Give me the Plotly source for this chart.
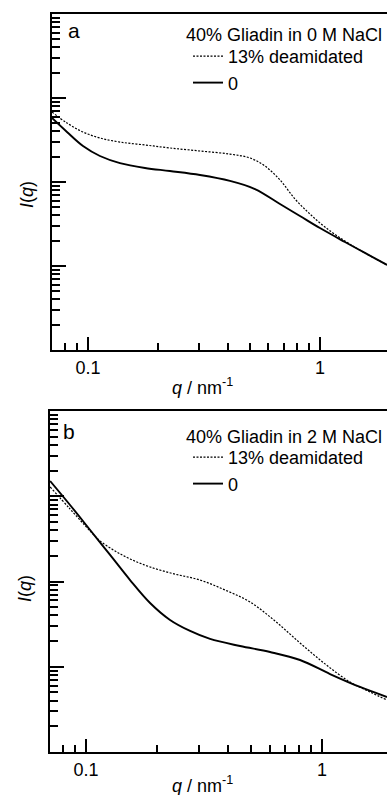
import plotly.graph_objects as go

# ---------------- data ----------------
# Panel a: 40% Gliadin in 0 M NaCl
qa_deam = [0.0700, 0.0812, 0.0952, 0.1126, 0.1374, 0.1761, 0.2256, 0.3040, 0.4093, 0.4993, 0.5792, 0.6725,
           0.7802, 0.9055, 1.0510, 1.2816, 1.5631, 1.9444]
Ia_deam = [681, 504, 394, 334, 299, 276, 254, 234, 215, 193, 155, 106, 62.8, 41.6, 29.1, 19.8, 14.3, 10.3]
qa_native = [0.0700, 0.0812, 0.0952, 0.1126, 0.1374, 0.1761, 0.2256, 0.3040, 0.4093, 0.5246, 0.6725, 0.8199,
             1.0, 1.2816, 1.5631, 1.9444]
Ia_native = [578, 394, 268, 204, 168, 147, 135, 121, 103, 82.5, 54.7, 39.4, 28.3, 19.3, 14.3, 10.3]

# Panel b: 40% Gliadin in 2 M NaCl
qb_deam = [0.0704, 0.0855, 0.1040, 0.1146, 0.1327, 0.1536, 0.1867, 0.2383, 0.3042, 0.3881, 0.4952, 0.6322,
           0.8069, 1.0297, 1.3141, 1.5976, 1.8856]
Ib_deam = [1284, 709, 391, 299, 228, 184, 148, 122, 104, 79.5, 57.5, 34.4, 19.0, 10.8, 6.62, 5.06, 4.07]
qb_native = [0.0704, 0.0855, 0.1040, 0.1264, 0.1536, 0.1867, 0.2269, 0.2759, 0.3353, 0.4493, 0.6021, 0.8069,
             1.0812, 1.4488, 1.8856]
Ib_native = [1510, 790, 402, 205, 104, 56.0, 35.4, 26.3, 21.2, 17.5, 14.9, 12.0, 8.22, 5.79, 4.42]

series_names = ["13% deamidated", "0"]
legend_titles = ["40% Gliadin in 0 M NaCl", "40% Gliadin in 2 M NaCl"]
panel_labels = ["a", "b"]
x_tickvals = [0.1, 1]
x_ticktext = ["0.1", "1"]
x_minor = [0.08, 0.09, 0.2, 0.3, 0.4, 0.5, 0.6, 0.7, 0.8, 0.9, 2]
y_major = [10, 100, 1000]
y_minor = [m * 10 ** k for k in range(0, 4) for m in range(2, 10)]

# ---------------- figure ----------------
W, H = 387, 795
FONT = "Arial, Liberation Sans, sans-serif"
fig = go.Figure()

dot_style = dict(color="black", width=1.2, dash="2px,1.5px")
solid_style = dict(color="black", width=1.9)

fig.add_trace(go.Scatter(x=qa_deam, y=Ia_deam, mode="lines", name=series_names[0], line=dot_style,
                         line_shape="spline", xaxis="x", yaxis="y", legend="legend"))
fig.add_trace(go.Scatter(x=qa_native, y=Ia_native, mode="lines", name=series_names[1], line=solid_style,
                         line_shape="spline", xaxis="x", yaxis="y", legend="legend"))
fig.add_trace(go.Scatter(x=qb_deam, y=Ib_deam, mode="lines", name=series_names[0], line=dot_style,
                         line_shape="spline", xaxis="x2", yaxis="y2", legend="legend2"))
fig.add_trace(go.Scatter(x=qb_native, y=Ib_native, mode="lines", name=series_names[1], line=solid_style,
                         line_shape="spline", xaxis="x2", yaxis="y2", legend="legend2"))


def xax(left_px, rng, anchor):
    return dict(type="log", range=rng, domain=[left_px / W, 1], anchor=anchor,
                showline=True, linewidth=2, linecolor="black", mirror=True,
                ticks="inside", ticklen=13, tickwidth=2, tickcolor="black",
                tickmode="array", tickvals=x_tickvals, ticktext=x_ticktext,
                tickfont=dict(size=18, color="black", family=FONT),
                ticklabelstandoff=0,
                showgrid=False, zeroline=False,
                minor=dict(ticks="inside", ticklen=7, tickwidth=2, tickcolor="black",
                           tickmode="array", tickvals=x_minor, showgrid=False))


def yax(top_px, bot_px, anchor):
    return dict(type="log", range=[0, 4], domain=[1 - bot_px / H, 1 - top_px / H], anchor=anchor,
                showline=True, linewidth=2, linecolor="black", mirror=False,
                ticks="inside", ticklen=14, tickwidth=2, tickcolor="black",
                tickmode="array", tickvals=y_major, showticklabels=False,
                showgrid=False, zeroline=False,
                minor=dict(ticks="inside", ticklen=8, tickwidth=1.5, tickcolor="black",
                           tickmode="array", tickvals=y_minor, showgrid=False))


def leg(x_px, y_px):
    return dict(x=x_px / W, y=1 - y_px / H, xanchor="left", yanchor="top",
                bgcolor="rgba(0,0,0,0)", borderwidth=0,
                font=dict(size=18, family=FONT, color="black"),
                itemwidth=30, tracegroupgap=0, traceorder="normal")


fig.update_layout(
    width=W, height=H, margin=dict(l=0, r=0, t=0, b=0),
    paper_bgcolor="white", plot_bgcolor="white",
    font=dict(family=FONT, size=18, color="black"),
    xaxis=xax(52, [-1.155, 0.289], "y"),
    yaxis=yax(14, 350, "x"),
    xaxis2=xax(50, [-1.153, 0.2754], "y2"),
    yaxis2=yax(411, 752, "x2"),
    legend=leg(188, 38),
    legend2=leg(188, 439),
    showlegend=True,
)

ann = []
# panel letters
for lab, (px, py) in zip(panel_labels, [(74, 31), (69, 431)]):
    ann.append(dict(text=lab, x=px / W, y=1 - py / H, xref="paper", yref="paper",
                    showarrow=False, font=dict(size=21, family=FONT, color="black"),
                    xanchor="center", yanchor="middle"))
# legend titles
for t, py in zip(legend_titles, [35, 437]):
    ann.append(dict(text=t, x=184 / W, y=1 - py / H, xref="paper", yref="paper",
                    showarrow=False, font=dict(size=18, family=FONT, color="black"),
                    xanchor="left", yanchor="middle"))
# x titles
for py in [386, 784]:
    ann.append(dict(text="<i>q</i> / nm<sup>-1</sup>", x=202 / W, y=1 - py / H, xref="paper", yref="paper",
                    showarrow=False, font=dict(size=18, family=FONT, color="black"),
                    xanchor="center", yanchor="middle"))
# y titles
for px, py in [(27, 195), (25, 588)]:
    ann.append(dict(text="<i>I</i>(<i>q</i>)", x=px / W, y=1 - py / H, xref="paper", yref="paper",
                    showarrow=False, textangle=-90, font=dict(size=18, family=FONT, color="black"),
                    xanchor="center", yanchor="middle"))
fig.update_layout(annotations=ann)

fig.write_html("out.html")
